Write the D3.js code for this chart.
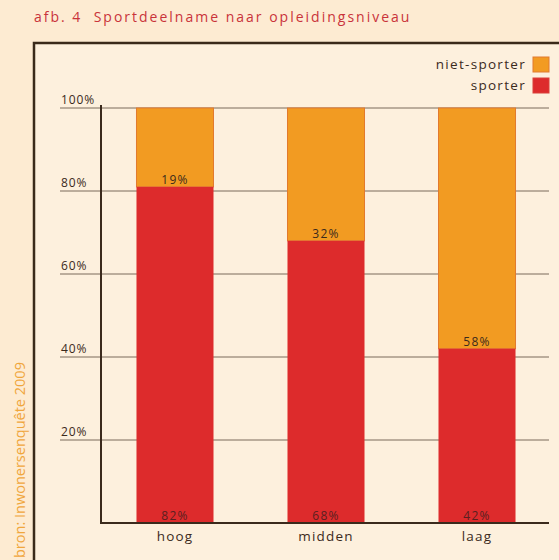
<!DOCTYPE html>
<html>
<head>
<meta charset="utf-8">
<script src="https://cdn.jsdelivr.net/npm/d3@7"></script>
<style>
  html, body { margin: 0; padding: 0; background: #fdebd2; }
  svg { display: block; font-family: "Open Sans", "DejaVu Sans", sans-serif; }
</style>
</head>
<body>
<svg></svg>
<script>
// DATA
const categories = ["hoog", "midden", "laag"];
const sporter = [82, 68, 42];
const nietSporter = [19, 32, 58];
const yTicks = [20, 40, 60, 80, 100];
const seriesNames = ["niet-sporter", "sporter"];

// LAYOUT
const WIDTH = 559, HEIGHT = 560;
const PLOT = {left: 101, right: 549, top: 108, bottom: 523};
const COLORS = {"niet-sporter": "#f29b22", "sporter": "#dd2b2c"};
const EDGE = {"niet-sporter": "#e27a2e", "sporter": "#d9413a"};
const INK = "#3b2a1c";

const svg = d3.select("svg").attr("width", WIDTH).attr("height", HEIGHT);

// inner panel
svg.append("rect")
  .attr("x", 34).attr("y", 43)
  .attr("width", WIDTH).attr("height", HEIGHT)
  .attr("fill", "#fdf0dd")
  .attr("stroke", "#3a2a1a").attr("stroke-width", 2.5);

// title
svg.append("text")
  .attr("x", 34).attr("y", 22)
  .attr("fill", "#c9333a")
  .style("font-size", "14px")
  .style("letter-spacing", "2px")
  .style("white-space", "pre")
  .text("afb. 4  Sportdeelname naar opleidingsniveau");

// source, rotated
svg.append("text")
  .attr("transform", "translate(25,558) rotate(-90)")
  .attr("fill", "#f0a63c")
  .style("font-size", "14.5px")
  .text("bron: Inwonersenquête 2009");

const x = d3.scaleBand().domain(categories).range([PLOT.left, PLOT.right + 2]).paddingInner(0.49).paddingOuter(0.235);
const y = d3.scaleLinear().domain([0, 100]).range([PLOT.bottom, PLOT.top]);

// gridlines + tick labels
const grid = svg.append("g");
grid.selectAll("line").data(yTicks).enter().append("line")
  .attr("x1", 60).attr("x2", PLOT.right)
  .attr("y1", d => y(d)).attr("y2", d => y(d))
  .attr("stroke", "#7a6a5a").attr("stroke-width", 1);
grid.selectAll("text").data(yTicks).enter().append("text")
  .attr("x", 61).attr("y", d => y(d) - 4)
  .attr("fill", INK)
  .style("font-size", "12px")
  .style("letter-spacing", "0.9px")
  .text(d => d + "%");

// bars
const rows = categories.map((c, i) => ({cat: c, sp: sporter[i], niet: nietSporter[i]}));
const bars = svg.append("g");
bars.selectAll(".niet").data(rows).enter().append("rect")
  .attr("x", d => x(d.cat)).attr("width", x.bandwidth())
  .attr("y", y(100)).attr("height", d => y(100 - d.niet) - y(100))
  .attr("fill", COLORS["niet-sporter"]).attr("stroke", EDGE["niet-sporter"]).attr("stroke-width", 1);
bars.selectAll(".sp").data(rows).enter().append("rect")
  .attr("x", d => x(d.cat)).attr("width", x.bandwidth())
  .attr("y", d => y(100 - d.niet)).attr("height", d => y(0) - y(100 - d.niet))
  .attr("fill", COLORS["sporter"]);

// value labels
bars.selectAll(".lab-niet").data(rows).enter().append("text")
  .attr("x", d => x(d.cat) + x.bandwidth() / 2)
  .attr("y", d => y(100 - d.niet) - 3)
  .attr("text-anchor", "middle").attr("fill", INK)
  .style("font-size", "12px").style("letter-spacing", "1.3px")
  .text(d => d.niet + "%");
bars.selectAll(".lab-sp").data(rows).enter().append("text")
  .attr("x", d => x(d.cat) + x.bandwidth() / 2)
  .attr("y", y(0) - 3)
  .attr("text-anchor", "middle").attr("fill", "#5a2020")
  .style("font-size", "12px").style("letter-spacing", "1.3px")
  .text(d => d.sp + "%");

// axes
svg.append("line")
  .attr("x1", PLOT.left).attr("x2", PLOT.left)
  .attr("y1", y(100) - 3).attr("y2", PLOT.bottom)
  .attr("stroke", INK).attr("stroke-width", 2);
svg.append("line")
  .attr("x1", PLOT.left - 1).attr("x2", PLOT.right)
  .attr("y1", PLOT.bottom).attr("y2", PLOT.bottom)
  .attr("stroke", INK).attr("stroke-width", 2);

// category labels
svg.append("g").selectAll("text").data(categories).enter().append("text")
  .attr("x", d => x(d) + x.bandwidth() / 2)
  .attr("y", 541)
  .attr("text-anchor", "middle").attr("fill", INK)
  .style("font-size", "13.5px").style("letter-spacing", "1.2px")
  .text(d => d);

// legend
const legend = svg.append("g");
legend.selectAll("rect").data(seriesNames).enter().append("rect")
  .attr("x", 533).attr("y", (d, i) => 57 + i * 21)
  .attr("width", 16).attr("height", 15)
  .attr("fill", d => COLORS[d]).attr("stroke", d => EDGE[d]);
legend.selectAll("text").data(seriesNames).enter().append("text")
  .attr("x", 526).attr("y", (d, i) => 69 + i * 21)
  .attr("text-anchor", "end").attr("fill", INK)
  .style("font-size", "13.5px").style("letter-spacing", "1.3px")
  .text(d => d);
</script>
</body>
</html>
